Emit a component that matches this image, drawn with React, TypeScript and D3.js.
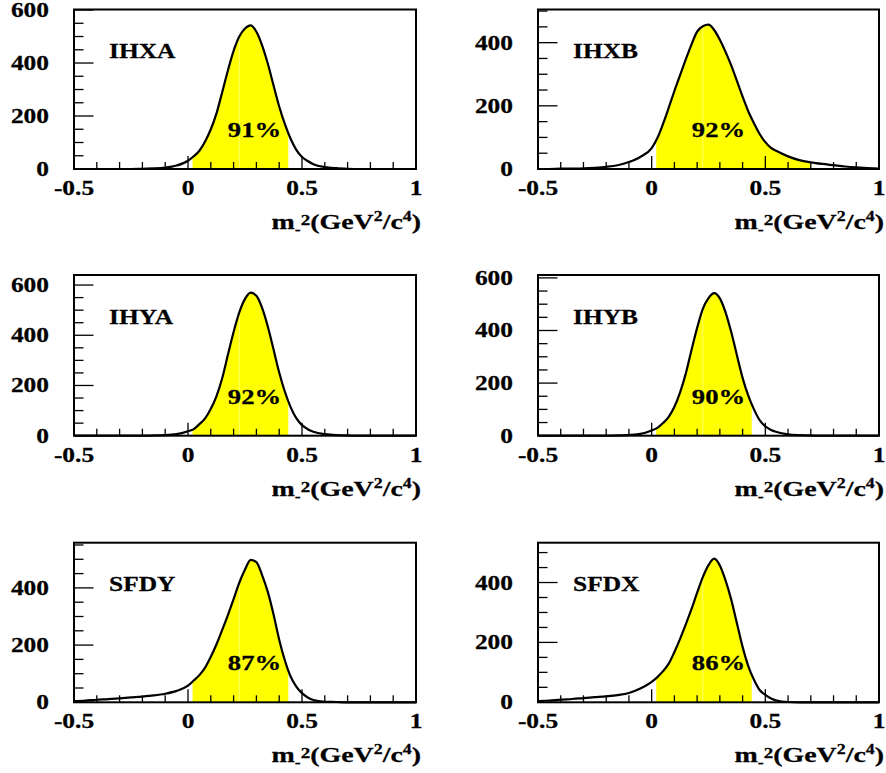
import React from 'react';
import * as d3 from 'd3';

// shared x grid (m^2 in GeV^2/c^4)
const xs = [-0.5, -0.45, -0.4, -0.35, -0.3, -0.25, -0.2, -0.15, -0.1, -0.05,
  0, 0.025, 0.05, 0.075, 0.1, 0.125, 0.15, 0.175, 0.2, 0.225,
  0.25, 0.275, 0.3, 0.325, 0.35, 0.375, 0.4, 0.425, 0.45, 0.475,
  0.5, 0.525, 0.55, 0.6, 0.65, 0.7, 0.75, 0.8, 0.85, 0.9, 0.95, 1.0];

const ihxa = [0, 0, 0, 0, 0, 0, 1, 2, 5, 13,
  31, 48, 69, 104, 150, 210, 290, 372, 446, 500,
  530, 542, 518, 467, 398, 316, 236, 169, 114, 72,
  45, 30, 18, 7, 3, 1, 0, 0, 0, 0, 0, 0];
const ihxb = [0, 0, 1, 1, 2, 4, 7, 12, 22, 38,
  66, 98, 143, 194, 247, 297, 347, 394, 435, 452,
  457, 440, 409, 371, 328, 279, 229, 183, 145, 111,
  85, 67, 57, 40, 28, 21, 16, 12, 8, 5, 3, 1];
const ihya = [0, 0, 0, 0, 0, 0, 0, 1, 2, 6,
  18, 26, 46, 69, 107, 158, 229, 322, 413, 491,
  545, 570, 557, 509, 435, 344, 252, 175, 114, 70,
  42, 26, 16, 6, 2, 1, 0, 0, 0, 0, 0, 0];
const ihyb = [0, 0, 0, 0, 0, 0, 0, 1, 3, 7,
  20, 30, 48, 72, 110, 165, 236, 325, 410, 482,
  523, 542, 522, 469, 394, 306, 220, 152, 100, 59,
  36, 22, 14, 5, 2, 1, 0, 0, 0, 0, 0, 0];
const sfdy = [4, 6, 9, 11, 14, 17, 20, 24, 30, 40,
  58, 76, 95, 121, 159, 203, 253, 305, 361, 418,
  464, 498, 490, 445, 386, 308, 219, 146, 90, 55,
  32, 17, 8, 2, 1, 0, 0, 0, 0, 0, 0, 0];
const sfdx = [4, 6, 9, 11, 14, 17, 20, 24, 31, 46,
  68, 84, 104, 129, 168, 212, 260, 311, 366, 418,
  458, 480, 457, 407, 343, 264, 185, 121, 75, 41,
  25, 13, 6, 1, 0, 0, 0, 0, 0, 0, 0, 0];

const series = [ihxa, ihxb, ihya, ihyb, sfdy, sfdx];
const names = ['IHXA', 'IHXB', 'IHYA', 'IHYB', 'SFDY', 'SFDX'];
const percents = ['91%', '92%', '92%', '90%', '87%', '86%'];
const yMaxes = [602, 505, 640, 611, 558, 533];
const fillLo = [0.02, 0.02, 0.02, 0.02, 0.02, 0.02];
const fillHi = [0.44, 0.70, 0.44, 0.44, 0.44, 0.44];
const xMajorTicks = [-0.5, 0, 0.5, 1];
const xMajorLabels = ['-0.5', '0', '0.5', '1'];
const yMajorStep = 200;
const yMinorStep = 50;

const FONT = '"Liberation Serif", "Times New Roman", Times, serif';
const SX = 1.27;

const colLeft = [74, 538];
const colRight = [416, 879];
const rowTop = [9.5, 275, 542.7];
const rowBottom = [169, 435.7, 702.3];

function SText({ x, y, anchor = 'start', size, children }: any) {
  return (
    <text
      transform={`translate(${x},${y}) scale(${SX},1)`}
      textAnchor={anchor}
      fontFamily={FONT}
      fontWeight="bold"
      fontSize={size}
      fill="#000"
      stroke="#000"
      strokeWidth={0.25}
    >
      {children}
    </text>
  );
}

function Panel({ i }: { i: number }) {
  const col = i % 2;
  const row = Math.floor(i / 2);
  const L = colLeft[col], R = colRight[col], T = rowTop[row], B = rowBottom[row];
  const x = d3.scaleLinear().domain([-0.5, 1]).range([L, R]);
  const y = d3.scaleLinear().domain([0, yMaxes[i]]).range([B, T]);
  const pts: [number, number][] = xs.map((v, j) => [v, series[i][j]]);
  const line = d3.line<[number, number]>().x(d => x(d[0])).y(d => y(d[1])).curve(d3.curveMonotoneX);
  const area = d3.area<[number, number]>().x(d => x(d[0])).y0(B).y1(d => y(d[1])).curve(d3.curveMonotoneX);
  const clipId = `clip-area-${i}`;

  const xMinor = d3.range(-5, 11).map(k => k / 10);
  const yTicks = d3.range(0, yMaxes[i] + 0.1, yMinorStep);

  return (
    <g>
      <defs>
        <clipPath id={clipId}>
          <path d={area(pts) || ''} />
        </clipPath>
      </defs>
      <g clipPath={`url(#${clipId})`}>
        <rect x={x(fillLo[i])} y={T} width={x(fillHi[i]) - x(fillLo[i])} height={B - T} fill="#ffff00" />
        <line x1={x(0.225)} x2={x(0.225)} y1={T} y2={B} stroke="#ffffff" strokeOpacity={0.55} strokeWidth={0.8} />
      </g>
      {/* x ticks */}
      {xMinor.map(t => {
        const major = xMajorTicks.some(m => Math.abs(m - t) < 1e-6);
        return (
          <line key={'xt' + t} x1={x(t)} x2={x(t)} y1={B} y2={B - (major ? 13 : 7)} stroke="#000" strokeWidth={1.3} />
        );
      })}
      {/* y ticks */}
      {yTicks.map(t => {
        const major = t % yMajorStep === 0;
        return (
          <line key={'yt' + t} x1={L} x2={L + (major ? 19.5 : 9.5)} y1={y(t)} y2={y(t)} stroke="#000" strokeWidth={1.3} />
        );
      })}
      <path d={line(pts) || ''} fill="none" stroke="#000" strokeWidth={2.2} />
      <rect x={L} y={T} width={R - L} height={B - T} fill="none" stroke="#000" strokeWidth={2} />
      {/* y labels */}
      {yTicks.filter(t => t % yMajorStep === 0).map(t => (
        <SText key={'yl' + t} x={L - 25} y={y(t) + 7} anchor="end" size={20}>{String(t)}</SText>
      ))}
      {/* x labels */}
      {xMajorTicks.map((t, k) => (
        <SText key={'xl' + t} x={x(t)} y={B + 26} anchor="middle" size={20}>{xMajorLabels[k]}</SText>
      ))}
      {/* axis title */}
      <SText x={R + 5} y={B + 60} anchor="end" size={22}>
        m<tspan fontSize={14} dy={5}>-</tspan><tspan fontSize={15} dy={-9}>2</tspan><tspan dy={4}>(GeV</tspan><tspan fontSize={14} dy={-8}>2</tspan><tspan dy={8}>/c</tspan><tspan fontSize={14} dy={-8}>4</tspan><tspan dy={8}>)</tspan>
      </SText>
      {/* panel name */}
      <SText x={L + 35} y={T + 48.5} size={20}>{names[i]}</SText>
      {/* percentage */}
      <SText x={L + 180.5} y={B - 32} anchor="middle" size={21}>{percents[i]}</SText>
    </g>
  );
}

export default function App() {
  return (
    <svg
      width={886}
      height={773}
      viewBox="0 0 886 773"
      style={{ position: 'absolute', left: 0, top: 0, background: '#fff' }}
    >
      <rect x={0} y={0} width={886} height={773} fill="#fff" />
      {names.map((_, i) => (
        <Panel key={i} i={i} />
      ))}
    </svg>
  );
}
